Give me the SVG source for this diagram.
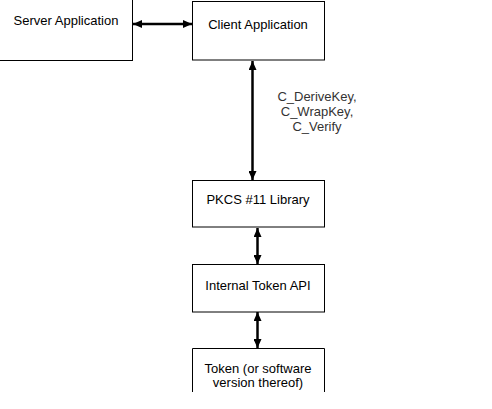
<svg xmlns="http://www.w3.org/2000/svg" width="492" height="409" viewBox="0 0 492 409">
<defs>
<marker id="ah" markerUnits="userSpaceOnUse" markerWidth="10" markerHeight="8" refX="9" refY="4" orient="auto-start-reverse">
<path d="M0,0 L9,4 L0,8 z" fill="#000"/>
</marker>
<style>
.box{fill:#fff;stroke:#000;stroke-width:1}
.t{font-family:"Liberation Sans",Arial,sans-serif;font-size:13px;fill:#000;text-anchor:middle}
.lbl{font-family:"Liberation Sans",Arial,sans-serif;font-size:13px;fill:#333;text-anchor:middle}
.c{stroke:#000;stroke-width:2.5;fill:none;marker-start:url(#ah);marker-end:url(#ah)}
</style>
</defs>
<rect width="492" height="409" fill="#fff"/>
<g id="server">
<rect class="box" x="-1" y="-1" width="133.5" height="61.5"/>
<text class="t" x="66" y="25">Server Application</text>
</g>
<g id="client">
<rect class="box" x="192.5" y="1.5" width="132" height="58.5"/>
<text class="t" x="258" y="28.5">Client Application</text>
</g>
<g id="pkcs">
<rect class="box" x="192.5" y="180.5" width="132" height="46.5"/>
<text class="t" x="258" y="204">PKCS #11 Library</text>
</g>
<g id="internal">
<rect class="box" x="192.5" y="264.5" width="132" height="47.5"/>
<text class="t" x="258" y="290">Internal Token API</text>
</g>
<g id="token">
<path class="box" d="M192.5,392 V348.5 H324.5 V392"/>
<text class="t" x="258" y="372.5">Token (or software</text>
<text class="t" x="258" y="387">version thereof)</text>
</g>
<g id="connectors">
<line class="c" x1="133" y1="24" x2="192" y2="24"/>
<line class="c" x1="252.5" y1="61" x2="252.5" y2="180"/>
<line class="c" x1="257.5" y1="228" x2="257.5" y2="264"/>
<line class="c" x1="257.5" y1="312" x2="257.5" y2="348"/>
<text class="lbl" x="317" y="101">C_DeriveKey,</text>
<text class="lbl" x="317" y="116">C_WrapKey,</text>
<text class="lbl" x="317" y="130.5">C_Verify</text>
</g>
</svg>
